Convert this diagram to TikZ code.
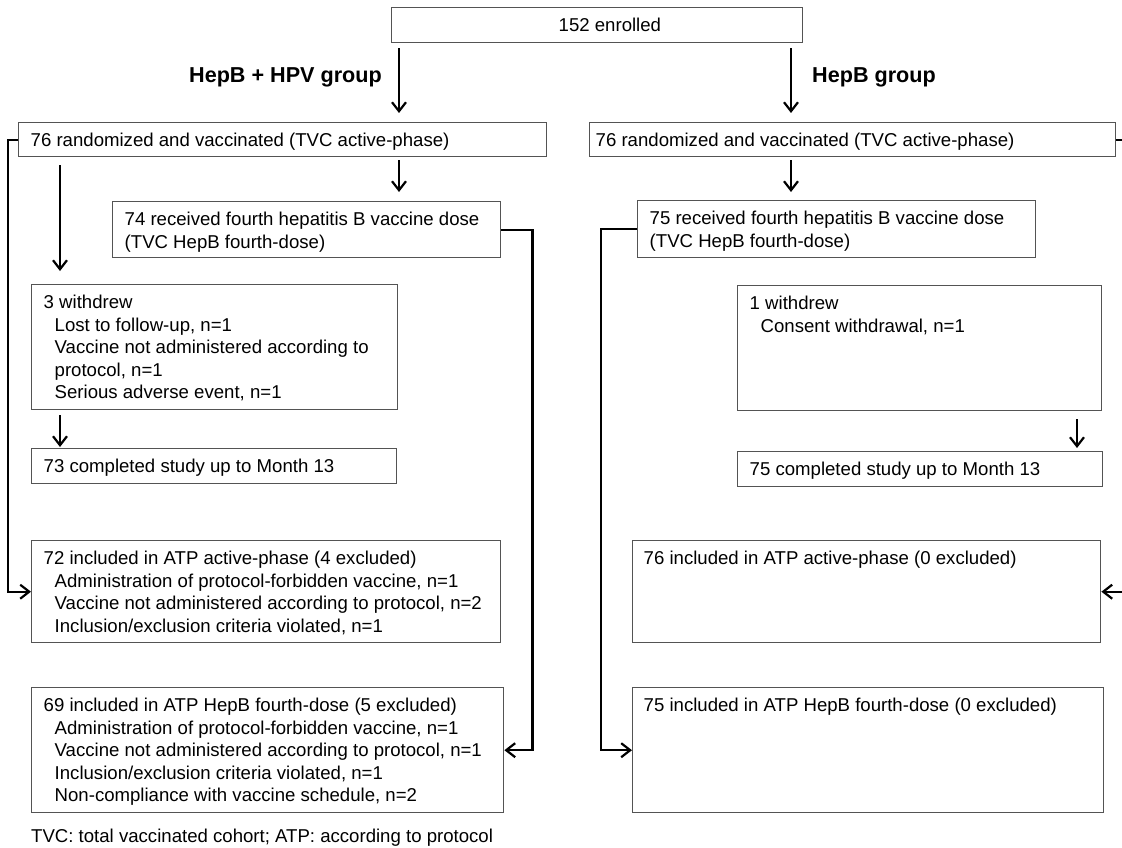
\documentclass[tikz,border=0pt]{standalone}
\usepackage{fontspec}
\setmainfont{Liberation Sans}
\usetikzlibrary{arrows.meta}
\definecolor{edgegray}{gray}{0.33}
% box text: width, height, content, left padding
\newcommand{\flowtext}[4]{\parbox[t][#2][t]{#1}{\raggedright\leftskip=#4\relax\rule{0pt}{24pt}#3}}
\newcommand{\ind}{\hspace*{11pt}}
\tikzset{
  box/.style={draw=edgegray, line width=1.4pt, anchor=north west, inner sep=0pt},
  grp/.style={font=\fontsize{21.6}{25}\selectfont\bfseries, inner sep=0pt},
  arr/.style={-{Straight Barb[length=9pt,width=14pt]}, line width=2.2pt}
}
\begin{document}
\begin{tikzpicture}[x=1pt,y=-1pt,font=\fontsize{18.6}{22.5}\selectfont]
            \useasboundingbox (0,0) rectangle (1122,848);
            % boxes
            \node[box] (enrol) at (391,7) {\flowtext{411pt}{35pt}{152 enrolled}{167pt}};
            \node[box] (randL) at (18,122) {\flowtext{528pt}{34pt}{76 randomized and vaccinated (TVC active-phase)}{12pt}};
            \node[box] (randR) at (589,122) {\flowtext{526pt}{34pt}{76 randomized and vaccinated (TVC active-phase)}{6pt}};
            \node[box] (doseL) at (112,201) {\flowtext{388pt}{56pt}{74 received fourth hepatitis B vaccine dose\\(TVC HepB fourth-dose)}{12pt}};
            \node[box] (doseR) at (637,200) {\flowtext{398pt}{57pt}{75 received fourth hepatitis B vaccine dose\\(TVC HepB fourth-dose)}{12pt}};
            \node[box] (wdL) at (31,284) {\flowtext{366pt}{125pt}{3 withdrew\\\ind Lost to follow-up, n=1\\\ind Vaccine not administered according to\\\ind protocol, n=1\\\ind Serious adverse event, n=1}{12pt}};
            \node[box] (wdR) at (737,285) {\flowtext{364pt}{125pt}{1 withdrew\\\ind Consent withdrawal, n=1}{12pt}};
            \node[box] (compL) at (31,448) {\flowtext{365pt}{35pt}{73 completed study up to Month 13}{12pt}};
            \node[box] (compR) at (737,451) {\flowtext{365pt}{35pt}{75 completed study up to Month 13}{12pt}};
            \node[box] (atpL) at (31,540) {\flowtext{469pt}{102pt}{72 included in ATP active-phase (4 excluded)\\\ind Administration of protocol-forbidden vaccine, n=1\\\ind Vaccine not administered according to protocol, n=2\\\ind Inclusion/exclusion criteria violated, n=1}{12pt}};
            \node[box] (atpR) at (632,540) {\flowtext{468pt}{102pt}{76 included in ATP active-phase (0 excluded)}{11pt}};
            \node[box] (fourL) at (31,687) {\flowtext{472pt}{125pt}{69 included in ATP HepB fourth-dose (5 excluded)\\\ind Administration of protocol-forbidden vaccine, n=1\\\ind Vaccine not administered according to protocol, n=1\\\ind Inclusion/exclusion criteria violated, n=1\\\ind Non-compliance with vaccine schedule, n=2}{12pt}};
            \node[box] (fourR) at (632,687) {\flowtext{471pt}{125pt}{75 included in ATP HepB fourth-dose (0 excluded)}{11pt}};
            % group labels and footnote
            \node[grp, anchor=east] (grpL) at (382,77) {HepB + HPV group};
            \node[grp, anchor=west] (grpR) at (812,77) {HepB group};
            \node[anchor=base west, inner sep=0pt] (note) at (31,842) {TVC: total vaccinated cohort; ATP: according to protocol};
            % arrow columns
            \coordinate (xL) at (399,0);
            \coordinate (xR) at (791,0);
            \coordinate (xW) at (60,0);
            \coordinate (xWR) at (1077,0);
            % connectors
            \draw[arr, shorten <=5pt, shorten >=9pt] (enrol.south -| xL) -- (randL.north -| xL);
            \draw[arr, shorten <=5pt, shorten >=9pt] (enrol.south -| xR) -- (randR.north -| xR);
            \draw[arr, shorten <=3pt, shorten >=9pt] (randL.south -| xL) -- (doseL.north -| xL);
            \draw[arr, shorten <=3pt, shorten >=8pt] (randR.south -| xR) -- (doseR.north -| xR);
            \draw[arr, shorten <=8pt, shorten >=13pt] (randL.south -| xW) -- (wdL.north -| xW);
            \draw[arr, shorten <=5pt, shorten >=1pt] (wdL.south -| xW) -- (compL.north -| xW);
            \draw[arr, shorten <=8pt, shorten >=3pt] (wdR.south -| xWR) -- (compR.north -| xWR);
            \draw[arr] (randL.west) -- ++(-10,0) |- (atpL.west);
            \draw[arr] (doseL.east) -- ++(31,0) |- (fourL.east);
            \draw[arr] (doseR.west) -- ++(-36,0) |- (fourR.west);
            \draw[arr] (randR.east) -- ++(14,0) |- (atpR.east);
        \end{tikzpicture}
\end{document}
